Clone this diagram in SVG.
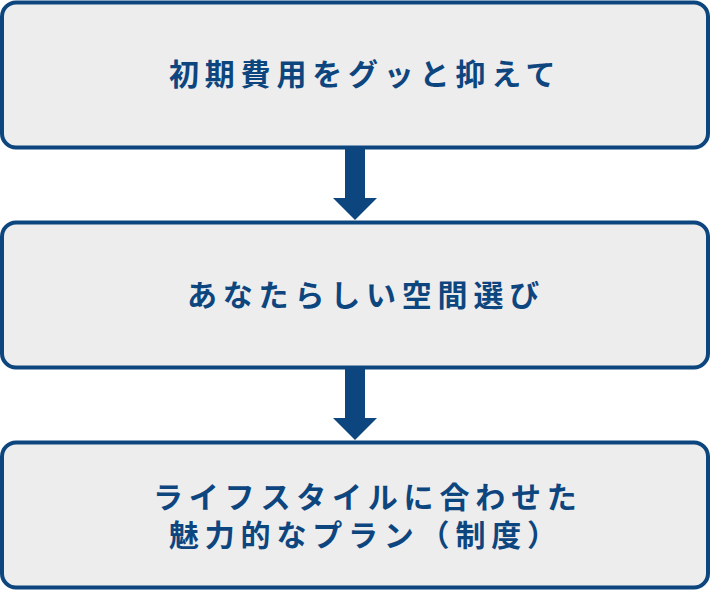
<svg xmlns="http://www.w3.org/2000/svg" width="710" height="590" viewBox="0 0 710 590">
<style>
.box{fill:#ededed;stroke:#0d467f;stroke-width:4}
.t{font-family:"Noto Sans CJK JP","Noto Sans",sans-serif;font-size:30px;font-weight:bold;fill:#0d467f;letter-spacing:5.8px}
.arr{fill:#0d467f}
</style>
<rect x="0" y="0" width="710" height="590" fill="#ffffff"/>
<g id="node1">
<rect class="box" x="2" y="2.5" width="706" height="145" rx="14"/>
<text class="t" x="169" y="85">初期費用をグッと抑えて</text>
</g>
<g id="node2">
<rect class="box" x="2" y="222.5" width="706" height="145" rx="14"/>
<text class="t" x="187" y="306">あなたらしい空間選び</text>
</g>
<g id="node3">
<rect class="box" x="2" y="442.5" width="706" height="145" rx="14"/>
<text class="t"><tspan x="153" y="508">ライフスタイルに合わせた</tspan><tspan x="169" y="546">魅力的なプラン（制度）</tspan></text>
</g>
<g id="connectors">
<polygon class="arr" points="345,149 365,149 365,198 377,198 355,220 333,198 345,198"/>
<polygon class="arr" points="345,369 365,369 365,418 377,418 355,440 333,418 345,418"/>
</g>
</svg>
